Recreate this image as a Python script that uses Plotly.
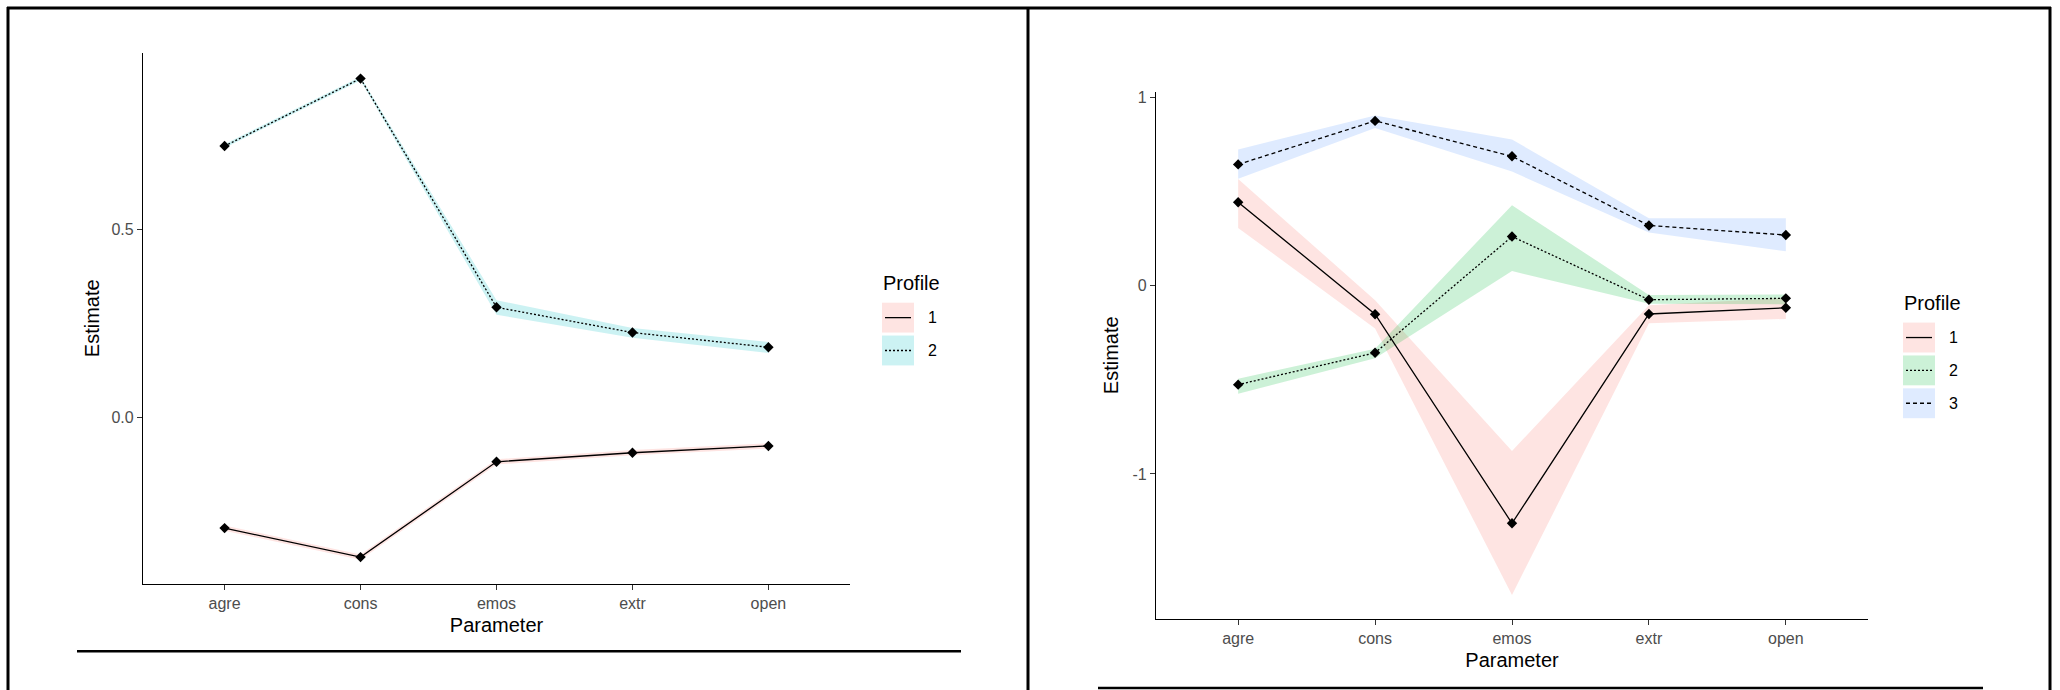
import plotly.graph_objects as go

W, H = 2060, 690

params = ["agre", "cons", "emos", "extr", "open"]

# Left chart (2 profiles)
L_p1_est = [-0.293, -0.370, -0.117, -0.093, -0.075]
L_p1_lo = [-0.300, -0.377, -0.124, -0.100, -0.082]
L_p1_hi = [-0.286, -0.363, -0.110, -0.086, -0.068]
L_p2_est = [0.721, 0.900, 0.293, 0.226, 0.187]
L_p2_lo = [0.716, 0.895, 0.273, 0.212, 0.172]
L_p2_hi = [0.726, 0.905, 0.312, 0.238, 0.201]

# Right chart (3 profiles)
R_p1_est = [0.442, -0.152, -1.262, -0.151, -0.118]
R_p1_lo = [0.306, -0.228, -1.642, -0.200, -0.177]
R_p1_hi = [0.566, -0.078, -0.878, -0.105, -0.065]
R_p2_est = [-0.526, -0.357, 0.260, -0.075, -0.068]
R_p2_lo = [-0.574, -0.386, 0.077, -0.097, -0.100]
R_p2_hi = [-0.495, -0.335, 0.426, -0.050, -0.047]
R_p3_est = [0.643, 0.874, 0.686, 0.319, 0.268]
R_p3_lo = [0.567, 0.836, 0.605, 0.281, 0.182]
R_p3_hi = [0.722, 0.903, 0.775, 0.357, 0.357]

left_profiles = ["1", "2"]
right_profiles = ["1", "2", "3"]
left_fills = ["rgba(248,118,109,0.2)", "rgba(0,191,196,0.2)"]
right_fills = ["rgba(248,118,109,0.2)", "rgba(0,186,56,0.2)", "rgba(97,156,255,0.2)"]
dashes = ["solid", "2px,2px", "4px,3px"]

FONT = "Liberation Sans, Arial, sans-serif"

fig = go.Figure()

def add_panel(series, fills, xa, ya):
    for (est, lo, hi), fc in zip(series, fills):
        fig.add_trace(go.Scatter(x=params, y=lo, mode="lines", line=dict(width=0),
                                 hoverinfo="skip", showlegend=False, xaxis=xa, yaxis=ya))
        fig.add_trace(go.Scatter(x=params, y=hi, mode="lines", line=dict(width=0),
                                 fill="tonexty", fillcolor=fc, hoverinfo="skip",
                                 showlegend=False, xaxis=xa, yaxis=ya))
    for i, (est, lo, hi) in enumerate(series):
        fig.add_trace(go.Scatter(x=params, y=est, mode="lines+markers",
                                 line=dict(color="black", width=1.3, dash=dashes[i]),
                                 marker=dict(symbol="diamond", size=8, color="black"),
                                 showlegend=False, xaxis=xa, yaxis=ya))

add_panel([(L_p1_est, L_p1_lo, L_p1_hi), (L_p2_est, L_p2_lo, L_p2_hi)], left_fills, "x", "y")
add_panel([(R_p1_est, R_p1_lo, R_p1_hi), (R_p2_est, R_p2_lo, R_p2_hi),
           (R_p3_est, R_p3_lo, R_p3_hi)], right_fills, "x2", "y2")

def px(x):
    return x / W

def py(y):
    return 1 - y / H

axis_common = dict(showline=True, linecolor="black", linewidth=1.3, ticks="outside",
                   ticklen=5, tickwidth=1.2, tickcolor="#333333", showgrid=False,
                   zeroline=False, tickfont=dict(family=FONT, size=16, color="#4D4D4D"))

fig.update_layout(
    width=W, height=H, margin=dict(l=0, r=0, t=0, b=0),
    paper_bgcolor="white", plot_bgcolor="white", showlegend=False,
    font=dict(family=FONT),
    xaxis=dict(domain=[px(143), px(850)], range=[-0.6, 4.6], type="category",
               title=dict(text="Parameter", font=dict(size=20, color="black"), standoff=6),
               anchor="y", **axis_common),
    yaxis=dict(domain=[py(583.4), py(49.8)], range=[-0.441, 0.969],
               tickvals=[0, 0.5], ticktext=["0.0", "0.5"],
               title=dict(text="Estimate", font=dict(size=20, color="black"), standoff=6),
               anchor="x", **axis_common),
    xaxis2=dict(domain=[px(1156), px(1868)], range=[-0.6, 4.6], type="category",
                title=dict(text="Parameter", font=dict(size=20, color="black"), standoff=6),
                anchor="y2", **axis_common),
    yaxis2=dict(domain=[py(618.7), py(88.9)], range=[-1.77, 1.03],
                tickvals=[-1, 0, 1], ticktext=["-1", "0", "1"],
                title=dict(text="Estimate", font=dict(size=20, color="black"), standoff=8),
                anchor="x2", **axis_common),
)

shapes = []
annotations = []

def line(x0, y0, x1, y1, w):
    shapes.append(dict(type="line", xref="paper", yref="paper", x0=px(x0), y0=py(y0),
                       x1=px(x1), y1=py(y1), line=dict(color="black", width=w)))

# frame
line(7, 5, 2051, 5, 3)
line(8, 4, 8, 690, 3)
line(1028, 4, 1028, 690, 3)
line(2050, 4, 2050, 690, 3)
# horizontal rules under charts
line(77, 651, 961, 651, 2.5)
line(1098, 688, 1983, 688, 2.5)

def legend(x0, title_y, box_tops, labels, fills):
    annotations.append(dict(xref="paper", yref="paper", x=px(x0 - 1), y=py(title_y),
                            xanchor="left", yanchor="middle", text="Profile", showarrow=False,
                            font=dict(family=FONT, size=20, color="black")))
    for i, (top, lab, fc) in enumerate(zip(box_tops, labels, fills)):
        bot = top + 30
        shapes.append(dict(type="rect", xref="paper", yref="paper", x0=px(x0), x1=px(x0 + 32),
                           y0=py(bot), y1=py(top), fillcolor=fc, line=dict(width=0)))
        mid = (top + bot) / 2
        shapes.append(dict(type="line", xref="paper", yref="paper", x0=px(x0 + 3), x1=px(x0 + 29),
                           y0=py(mid), y1=py(mid),
                           line=dict(color="black", width=1.3, dash=dashes[i])))
        annotations.append(dict(xref="paper", yref="paper", x=px(x0 + 44), y=py(mid),
                                xanchor="left", yanchor="middle", text=lab, showarrow=False,
                                font=dict(family=FONT, size=16, color="black")))

legend(882, 281, [301, 334], left_profiles, left_fills)
legend(1903, 301, [321, 354, 387], right_profiles, right_fills)

fig.update_layout(shapes=shapes, annotations=annotations)
fig.write_html("out.html", config={"displayModeBar": False},
               post_script="document.body.style.margin='0';document.body.style.overflow='hidden';")
